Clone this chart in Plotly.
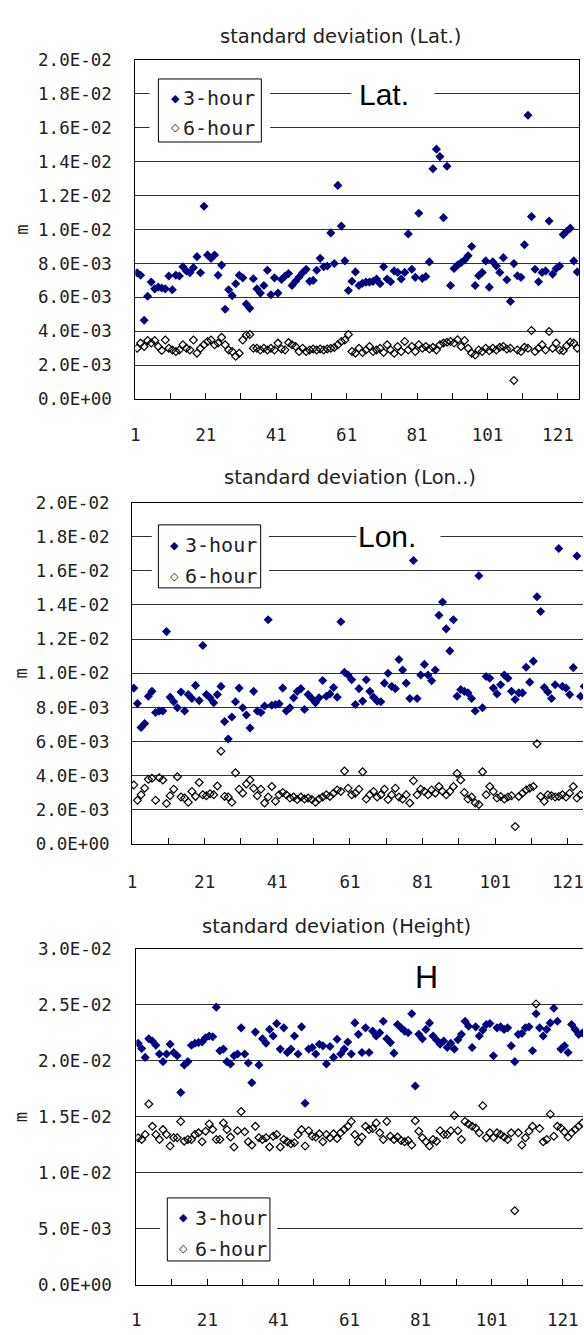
import plotly.graph_objects as go

W, H = 584, 1335

# ---------------- data (standard deviation, in units of 1E-03 m) ----------------
lat_3h_mm = [
    7.45, 7.3, 4.65, 6.06, 6.9, 6.5, 6.6, 6.55, 6.5, 7.26,
    6.45, 7.3, 7.26, 7.8, 7.55, 7.45, 7.75, 8.4, 7.45, 11.37,
    8.5, 8.3, 8.5, 7.3, 7.9, 5.3, 6.45, 6.1, 6.8, 7.3,
    7.15, 5.6, 5.35, 7.1, 6.5, 6.25, 6.7, 7.6, 6.15, 7.15,
    6.25, 7.05, 7.25, 7.4, 6.7, 6.95, 7.2, 7.45, 7.65, 6.95,
    7.0, 7.6, 8.3, 7.8, 7.85, 9.8, 8.0, 12.6, 10.2, 8.15,
    6.4, 6.95, 7.5, 6.7, 6.83, 6.9, 6.9, 6.94, 7.08, 6.8,
    7.8, 7.08, 6.92, 7.56, 7.47, 7.08, 7.47, 9.74, 7.66, 7.18,
    10.96, 7.12, 7.23, 8.09, 13.58, 14.74, 14.3, 10.7, 13.73, 6.7,
    7.7, 7.9, 8.05, 8.2, 8.45, 9.0, 6.7, 7.27, 7.47, 8.15,
    6.6, 8.1, 7.85, 7.47, 8.34, 7.04, 5.76, 7.99, 7.27, 7.18,
    9.1, 16.74, 10.76, 7.66, 6.92, 7.47, 7.56, 10.5, 7.37, 7.7,
    7.85, 9.7, 9.9, 10.08, 8.15, 7.5,
]
lat_6h_mm = [
    3.0, 3.3, 3.1, 3.45, 3.3, 3.45, 3.1, 2.87, 3.48, 3.0,
    2.9, 2.8, 2.9, 3.2, 3.0, 2.9, 3.48, 2.71, 3.0, 3.2,
    3.39, 3.48, 3.2, 3.3, 3.64, 3.2, 2.9, 2.8, 2.52, 2.7,
    3.48, 3.78, 3.81, 3.0, 3.0, 2.9, 3.0, 2.9, 3.0, 2.9,
    3.3, 2.96, 2.9, 3.33, 3.2, 3.1, 2.8, 3.0, 2.8, 2.9,
    2.96, 2.9, 2.96, 2.9, 2.96, 3.0, 3.04, 3.2, 3.39, 3.48,
    3.81, 2.8, 2.71, 3.0, 2.75, 2.9, 3.1, 2.8, 2.9, 3.0,
    2.75, 3.2, 2.9, 2.7, 3.1, 2.8, 3.4, 2.9, 3.1, 2.8,
    3.2, 3.0, 3.1, 2.95, 3.05, 2.9, 3.2, 3.3, 3.35, 3.4,
    3.3, 3.5, 3.1, 3.45, 3.0, 2.7, 2.6, 2.9, 2.8, 3.0,
    2.85, 3.0, 2.9, 3.05, 3.1, 2.95, 3.0, 1.1, 2.9, 2.8,
    3.05, 3.0, 4.05, 2.8, 3.0, 3.2, 2.9, 3.98, 3.0, 3.3,
    2.9, 2.85, 3.15, 3.35, 3.3, 3.0,
]
lon_3h_mm = [
    9.13, 8.23, 6.83, 7.06, 8.65, 8.94, 7.7, 7.79, 7.79, 12.44,
    8.6, 8.33, 7.98, 8.9, 7.79, 8.75, 8.52, 9.29, 8.4, 11.63,
    8.75, 8.56, 8.27, 8.75, 9.23, 7.17, 6.15, 7.44, 8.33, 9.13,
    7.98, 7.56, 6.79, 8.94, 7.79, 7.7, 8.08, 13.13, 8.13, 8.17,
    8.21, 9.13, 7.79, 7.98, 8.56, 8.94, 9.1, 7.88, 8.75, 8.52,
    8.27, 8.56, 9.58, 8.65, 8.79, 9.17, 8.6, 13.02, 10.06, 9.9,
    9.62, 8.17, 9.1, 8.37, 9.62, 8.94, 8.6, 8.37, 8.33, 9.42,
    10.0, 9.23, 9.1, 10.81, 10.19, 9.42, 8.52, 16.6, 8.52, 9.9,
    10.52, 9.9, 9.56, 10.19, 13.4, 14.17, 12.6, 11.31, 13.13, 8.65,
    9.04, 8.94, 8.85, 8.52, 7.79, 15.71, 7.98, 9.81, 9.71, 9.13,
    8.79, 9.33, 9.9, 9.71, 8.94, 8.46, 8.85, 8.85, 10.35, 9.48,
    10.71, 14.48, 13.62, 9.17, 8.9, 8.52, 9.33, 17.31, 9.23, 9.13,
    8.75, 10.33, 16.87, 8.65, 9.23,
]
lon_6h_mm = [
    3.46, 2.56, 2.88, 3.27, 3.79, 3.85, 2.56, 3.88, 3.75, 2.37,
    2.83, 3.21, 3.94, 2.75, 2.69, 2.44, 3.08, 2.79, 3.6, 2.88,
    2.83, 2.94, 2.88, 3.4, 5.44, 2.79, 2.75, 2.44, 4.17, 3.21,
    2.98, 3.52, 3.75, 3.27, 2.83, 3.21, 2.4, 2.75, 3.37, 2.5,
    2.88, 3.02, 2.88, 2.69, 2.75, 2.6, 2.75, 2.63, 2.69, 2.6,
    2.44, 2.63, 2.75, 2.88, 2.79, 2.98, 3.17, 3.08, 4.27, 3.27,
    2.88, 2.98, 3.21, 4.23, 2.63, 2.88, 3.08, 2.75, 2.88, 3.21,
    2.6, 2.88, 3.27, 2.75, 2.63, 2.88, 2.4, 3.71, 2.88, 3.21,
    3.08, 2.88, 3.17, 2.98, 3.37, 3.08, 2.88, 3.08, 3.37, 4.13,
    3.75, 3.02, 2.63, 2.75, 2.4, 2.31, 4.23, 2.88, 3.37, 3.08,
    2.69, 2.79, 2.63, 2.75, 2.83, 1.02, 2.79, 2.98, 3.17, 3.27,
    3.37, 5.87, 2.79, 2.5, 2.88, 2.83, 2.75, 2.79, 2.88, 2.75,
    2.98, 3.37, 2.69, 2.88,
]
hgt_3h_mm = [
    21.58, 21.11, 20.32, 21.99, 21.79, 21.41, 20.62, 19.94, 20.62, 21.5,
    20.76, 20.47, 17.18, 19.65, 19.94, 21.41, 21.58, 21.64, 21.7, 22.08,
    22.23, 22.17, 24.81, 20.91, 21.06, 19.94, 19.74, 20.47, 20.62, 22.96,
    20.62, 19.82, 18.06, 22.58, 19.65, 21.99, 21.58, 22.82, 22.23, 23.34,
    21.06, 22.96, 20.76, 21.06, 22.23, 20.62, 23.05, 16.22, 21.06, 21.2,
    20.62, 21.5, 21.35, 19.74, 21.29, 20.32, 21.94, 20.62, 21.06, 21.7,
    20.62, 23.4, 22.38, 20.76, 22.96, 20.76, 22.67, 22.23, 22.52, 23.55,
    21.99, 21.64, 20.7, 23.26, 22.96, 22.67, 22.52, 24.22, 17.77, 22.38,
    21.99, 22.82, 23.4, 22.23, 21.88, 21.5, 21.79, 21.2, 21.58, 21.06,
    21.9, 22.38, 23.55, 23.11, 21.2, 23.05, 22.23, 22.76, 23.26, 23.34,
    20.47, 22.96, 23.05, 22.82, 22.96, 21.35, 19.94, 22.38, 22.46, 22.96,
    23.05, 20.91, 24.22, 22.96, 22.23, 22.82, 23.4, 24.72, 23.55, 21.06,
    21.35, 20.76, 23.26, 22.82, 22.38, 22.5,
]
hgt_6h_mm = [
    13.14, 12.99, 13.43, 16.16, 14.16, 13.43, 12.99, 13.87, 13.43, 12.4,
    13.14, 13.14, 14.6, 12.84, 12.99, 12.99, 13.43, 13.58, 12.79, 13.72,
    14.37, 13.87, 12.99, 12.99, 14.46, 13.87, 13.2, 12.32, 13.78, 15.48,
    13.67, 12.79, 12.49, 14.16, 13.14, 12.99, 13.14, 12.32, 13.28, 13.43,
    12.32, 12.99, 12.79, 12.61, 12.7, 13.43, 13.87, 12.4, 13.78, 13.28,
    13.2, 13.49, 12.79, 13.43, 13.14, 13.49, 13.08, 13.58, 13.87, 14.16,
    14.6, 13.43, 12.79, 13.2, 14.16, 13.87, 13.96, 14.46, 13.58, 12.99,
    14.6, 13.28, 12.99, 13.2, 12.9, 12.79, 12.9, 12.49, 14.66, 13.72,
    13.14, 12.79, 12.4, 12.99, 12.84, 13.78, 13.43, 13.43, 13.78, 15.13,
    13.78, 12.99, 14.6, 14.37, 14.16, 14.02, 13.58, 16.01, 13.14, 13.58,
    13.14, 13.58, 13.43, 13.2, 12.99, 13.58, 6.63, 13.58, 12.49, 13.14,
    13.72, 14.16, 25.1, 13.96, 12.79, 12.99, 15.25, 13.28, 14.16, 14.02,
    13.67, 13.2, 13.58, 13.87, 14.16, 14.46,
]

# y-axis ticks (1E-03 m) and their printed labels
latlon_tickvals_mm = [0, 2, 4, 6, 8, 10, 12, 14, 16, 18, 20]
latlon_ticklabels = ["0.0E+00", "2.0E-03", "4.0E-03", "6.0E-03", "8.0E-03", "1.0E-02",
                     "1.2E-02", "1.4E-02", "1.6E-02", "1.8E-02", "2.0E-02"]
height_tickvals_mm = [0, 5, 10, 15, 20, 25, 30]
height_ticklabels = ["0.0E+00", "5.0E-03", "1.0E-02", "1.5E-02", "2.0E-02", "2.5E-02", "3.0E-02"]

series_names = ["3-hour", "6-hour"]

# ---------------- styling ----------------
NAVY = "#000080"
GRID = "#303030"
TXT = "#222222"
MONO = "DejaVu Sans Mono"
SANS = "DejaVu Sans"
ARIAL = "Liberation Sans"


def px(x):
    return x / W


def py(y):
    return 1 - y / H


panels = [
    dict(title="standard deviation (Lat.)", tag="Lat.", s3=lat_3h_mm, s6=lat_6h_mm,
         tv=latlon_tickvals_mm, tt=latlon_ticklabels,
         area=(131.7, 580.0, 50.7, 395.0), xmax=126.5, right_border=True, xgap=20, ygap=19,
         title_xy=(339, 26.6), tag_xy=(356, 86), tag_size=30, tag_gap=(350, 434),
         leg_box=(155, 259, 70, 134), leg_clear=(146, 268), leg_mx=172, leg_tx=178,
         leg_rows=(89.5, 119.5)),
    dict(title="standard deviation (Lon..)", tag="Lon.", s3=lon_3h_mm, s6=lon_6h_mm,
         tv=latlon_tickvals_mm, tt=latlon_ticklabels,
         area=(128.3, 584.0, 500.0, 846.7), xmax=124.67, right_border=False, xgap=22, ygap=18,
         title_xy=(349, 475), tag_xy=(355, 534), tag_size=30, tag_gap=(355, 440),
         leg_box=(155, 258.3, 522.7, 586.7), leg_clear=(148.3, 266.7), leg_mx=171.7, leg_tx=180,
         leg_rows=(543.3, 574.8)),
    dict(title="standard deviation (Height)", tag="H", s3=hgt_3h_mm, s6=hgt_6h_mm,
         tv=height_tickvals_mm, tt=height_ticklabels,
         area=(132.7, 584.0, 953.3, 1294.3), xmax=126.21, right_border=False, xgap=19, ygap=20,
         title_xy=(335, 930), tag_xy=(412, 981.7), tag_size=32, tag_gap=None,
         leg_box=(164, 267.7, 1206, 1270), leg_clear=(156.7, 275), leg_mx=180, leg_tx=190,
         leg_rows=(1226.2, 1257.8)),
]

fig = go.Figure()
shapes, annotations = [], []
layout_axes = {}

for i, p in enumerate(panels, start=1):
    xa, ya = ("x", "y") if i == 1 else (f"x{i}", f"y{i}")
    xkey, ykey = ("xaxis", "yaxis") if i == 1 else (f"xaxis{i}", f"yaxis{i}")

    for vals, name, marker in (
        (p["s3"], series_names[0], dict(symbol="diamond", size=7, color=NAVY, line=dict(width=0))),
        (p["s6"], series_names[1], dict(symbol="diamond-open", size=6, color="black",
                                        line=dict(width=1.2, color="black"))),
    ):
        fig.add_trace(go.Scatter(
            x=list(range(1, len(vals) + 1)), y=[v / 1000 for v in vals],
            mode="markers", name=name, marker=marker, xaxis=xa, yaxis=ya,
            showlegend=False, hoverinfo="x+y+name",
        ))

    left, right, top, bottom = p["area"]
    n_cat = max(len(p["s3"]), len(p["s6"]))
    cats = list(range(1, n_cat + 1, 10))
    layout_axes[xkey] = dict(
        domain=[px(left), px(right)], anchor=ya, range=[0.5, p["xmax"]],
        showgrid=False, zeroline=False,
        showline=True, linecolor="black", linewidth=1, mirror=True,
        tickmode="array", tickvals=[c - 0.5 for c in cats],
        ticktext=[str(c) if (c - 1) % 20 == 0 else "" for c in cats],
        ticks="inside", ticklen=6, tickwidth=1, tickcolor="black",
        ticklabelstandoff=p["xgap"], ticklabeloverflow="allow",
        tickfont=dict(family=MONO, size=17.5, color=TXT),
    )
    layout_axes[ykey] = dict(
        domain=[py(bottom), py(top)], anchor=xa,
        range=[0, p["tv"][-1] / 1000],
        tickmode="array", tickvals=[v / 1000 for v in p["tv"]], ticktext=p["tt"],
        ticks="", ticklabelstandoff=p["ygap"], ticklabeloverflow="allow",
        tickfont=dict(family=MONO, size=17.5, color=TXT),
        showgrid=True, gridcolor=GRID, gridwidth=1, zeroline=False,
        showline=True, linecolor="black", linewidth=1, mirror=p["right_border"],
    )

    # chart title
    tx, ty = p["title_xy"]
    annotations.append(dict(text=p["title"], x=px(tx), y=py(ty), xref="paper", yref="paper",
                            xanchor="center", yanchor="middle", showarrow=False,
                            font=dict(family=SANS, size=19.5, color=TXT)))
    # unit label on the value axis
    annotations.append(dict(text="m", x=px(16.5), y=py((top + bottom) / 2), xref="paper", yref="paper",
                            xanchor="center", yanchor="middle", showarrow=False, textangle=-90,
                            font=dict(family=MONO, size=17, color=TXT)))
    # component tag inside the plot
    if p["tag_gap"]:
        g0, g1 = p["tag_gap"]
        shapes.append(dict(type="rect", xref="paper", yref="paper", layer="above",
                           x0=px(g0), x1=px(g1), y0=py(p["tag_xy"][1] + 6), y1=py(p["tag_xy"][1] - 6),
                           fillcolor="white", line=dict(width=0)))
    annotations.append(dict(text=p["tag"], x=px(p["tag_xy"][0]), y=py(p["tag_xy"][1]),
                            xref="paper", yref="paper", xanchor="left", yanchor="middle",
                            showarrow=False, font=dict(family=ARIAL, size=p["tag_size"], color="black")))

    # legend block: cleared margin, framed box, symbols and series names
    bl, br, bt, bb = p["leg_box"]
    cl, cr = p["leg_clear"]
    shapes.append(dict(type="rect", xref="paper", yref="paper", layer="above",
                       x0=px(cl), x1=px(cr), y0=py(bb + 5), y1=py(bt - 5),
                       fillcolor="white", line=dict(width=0)))
    shapes.append(dict(type="rect", xref="paper", yref="paper", layer="above",
                       x0=px(bl), x1=px(br), y0=py(bb), y1=py(bt),
                       fillcolor="white", line=dict(color="black", width=1)))
    for row_y, name, glyph, gcol in zip(p["leg_rows"], series_names, ["◆", "◇"], [NAVY, "black"]):
        annotations.append(dict(text=glyph, x=px(p["leg_mx"]), y=py(row_y), xref="paper", yref="paper",
                                xanchor="center", yanchor="middle", showarrow=False,
                                font=dict(family=SANS, size=11, color=gcol)))
        annotations.append(dict(text=name, x=px(p["leg_tx"]), y=py(row_y), xref="paper", yref="paper",
                                xanchor="left", yanchor="middle", showarrow=False,
                                font=dict(family=MONO, size=20, color=TXT)))

fig.update_layout(
    width=W, height=H, margin=dict(l=0, r=0, t=0, b=0),
    paper_bgcolor="white", plot_bgcolor="white",
    showlegend=False, shapes=shapes, annotations=annotations,
    **layout_axes,
)

fig.write_html("out.html")
